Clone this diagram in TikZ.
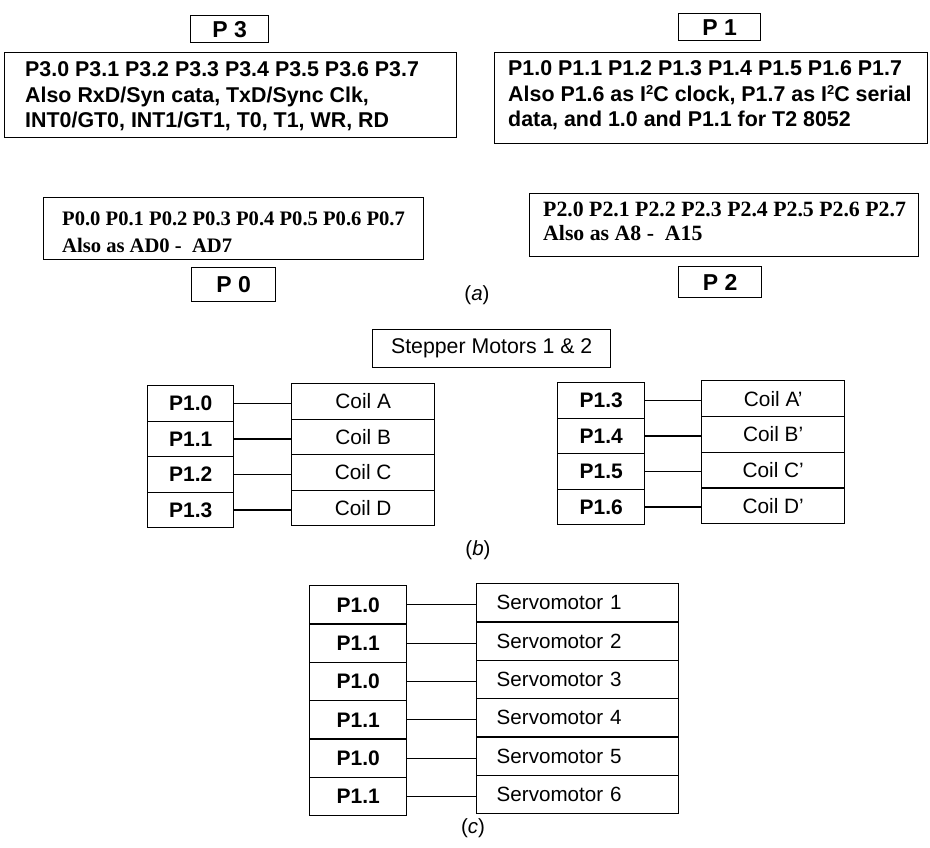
\documentclass[tikz,border=0pt]{standalone}
\usepackage{fontspec}
\setmainfont{Liberation Sans}
\newfontfamily\serifnt{Liberation Serif}
\newcommand\supt[1]{\raisebox{0.62ex}{\fontsize{13}{13}\selectfont #1}}
\begin{document}
\begin{tikzpicture}[x=1pt,y=-1pt,
  box/.style={draw, line width=1.4pt, inner sep=0pt, anchor=north west},
  lbl/.style={box, font=\bfseries\fontsize{23}{24}\selectfont},
  txt/.style={anchor=west, align=left, inner sep=0pt},
  sanstxt/.style={txt, font=\bfseries\fontsize{21.4}{25.5}\selectfont},
  seriftxt/.style={txt, font=\serifnt\bfseries\fontsize{20.6}{27}\selectfont},
  pinbox/.style={box, font=\bfseries\fontsize{21}{24}\selectfont},
  coilbox/.style={box, font=\fontsize{20.8}{24}\selectfont},
  servobox/.style={box, font=\fontsize{20.6}{24}\selectfont, text width=162pt, align=left, inner xsep=20pt, inner ysep=0pt},
  wire/.style={line width=1.2pt},
  figcap/.style={font=\fontsize{20.5}{24}\selectfont}
]
\useasboundingbox (0,0) rectangle (930,847);

% (a) ports
\node[lbl, minimum width=78, minimum height=27] (p3lbl) at (190,15) {P 3};
\node[box, minimum width=452, minimum height=85] (p3box) at (4,52) {};
\node[sanstxt] (p3txt) at ([xshift=21pt,yshift=-1pt]p3box.west) {P3.0 P3.1 P3.2 P3.3 P3.4 P3.5 P3.6 P3.7\\Also RxD/Syn cata, TxD/Sync Clk,\\INT0/GT0, INT1/GT1, T0, T1, WR, RD};

\node[lbl, minimum width=82, minimum height=27] (p1lbl) at (678,13) {P 1};
\node[box, minimum width=433, minimum height=91] (p1box) at (494,52) {};
\node[sanstxt] (p1txt) at ([xshift=14pt,yshift=3pt]p1box.west) {P1.0 P1.1 P1.2 P1.3 P1.4 P1.5 P1.6 P1.7\\Also P1.6 as I\supt{2}C clock, P1.7 as I\supt{2}C serial\\data, and 1.0 and P1.1 for T2 8052};

\node[box, minimum width=380, minimum height=62] (p0box) at (43,197) {};
\node[seriftxt] (p0txt) at ([xshift=19pt,yshift=-3.5pt]p0box.west) {P0.0 P0.1 P0.2 P0.3 P0.4 P0.5 P0.6 P0.7\\Also as AD0 -\ \ AD7};
\node[lbl, minimum width=84, minimum height=34] (p0lbl) at (191,267) {P 0};

\node[box, minimum width=389, minimum height=63] (p2box) at (529,193) {};
\node[seriftxt, font=\serifnt\bfseries\fontsize{21.8}{23.5}\selectfont] (p2txt) at ([xshift=14pt,yshift=4pt]p2box.west) {P2.0 P2.1 P2.2 P2.3 P2.4 P2.5 P2.6 P2.7\\Also as A8 -\ \ A15};
\node[lbl, minimum width=83, minimum height=31] (p2lbl) at (678,266) {P 2};

\node[figcap] (capa) at (477,295) {(\textit{a})};

% (b) stepper motors
\node[box, font=\fontsize{21.3}{24}\selectfont, minimum width=238, minimum height=38] (stepper) at (372,329) {Stepper Motors 1 \& 2};

\foreach \p/\c [count=\i] in {P1.0/Coil A, P1.1/Coil B, P1.2/Coil C, P1.3/Coil D}{
  \node[pinbox, minimum width=86, minimum height=35.5] (lp\i) at (147,{385+(\i-1)*35.5}) {\p};
  \node[coilbox, minimum width=143, minimum height=35.5] (lc\i) at (291,{383+(\i-1)*35.5}) {\c};
  \draw[wire] (lp\i.east) -- (lp\i.east -| lc\i.west);
}
\foreach \p/\c [count=\i] in {P1.3/Coil A', P1.4/Coil B', P1.5/Coil C', P1.6/Coil D'}{
  \node[pinbox, minimum width=87, minimum height=35.5] (rp\i) at (557,{382+(\i-1)*35.5}) {\p};
  \node[coilbox, minimum width=143, minimum height=35.75] (rc\i) at (701,{380+(\i-1)*35.75}) {\c};
  \draw[wire] (rp\i.east) -- (rp\i.east -| rc\i.west);
}
\node[figcap] (capb) at (478,550) {(\textit{b})};

% (c) servomotors
\foreach \p/\s [count=\i] in {P1.0/Servomotor 1, P1.1/Servomotor 2, P1.0/Servomotor 3, P1.1/Servomotor 4, P1.0/Servomotor 5, P1.1/Servomotor 6}{
  \node[pinbox, minimum width=97, minimum height=38.33] (sp\i) at (309,{585+(\i-1)*38.33}) {\p};
  \node[servobox, minimum height=38.33] (sv\i) at (476,{583+(\i-1)*38.33}) {\s};
  \draw[wire] (sp\i.east) -- (sp\i.east -| sv\i.west);
}
\node[figcap] (capc) at (473,828) {(\textit{c})};
\end{tikzpicture}
\end{document}
